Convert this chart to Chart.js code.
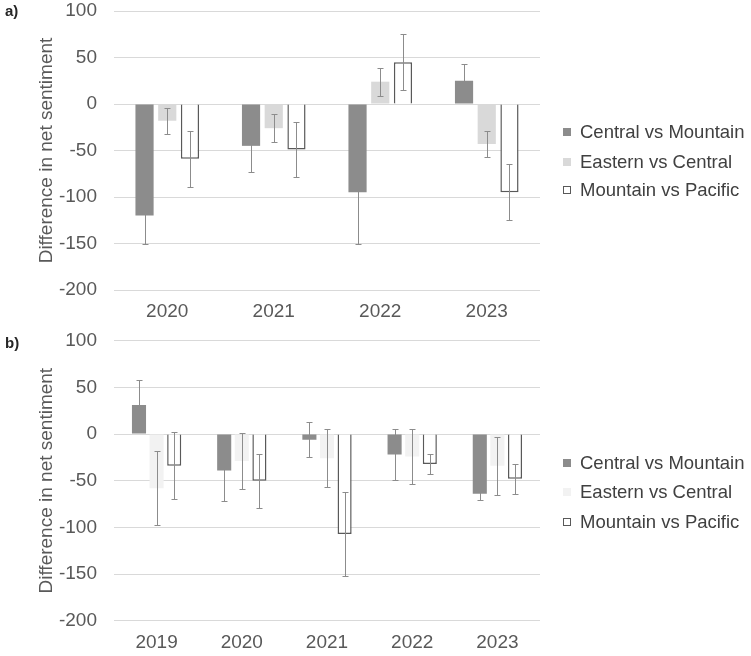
<!DOCTYPE html>
<html>
<head>
<meta charset="utf-8">
<script src="https://cdn.jsdelivr.net/npm/chart.js@4.4.1/dist/chart.umd.min.js"></script>
<style>
  body { margin: 0; background: #fff; }
  #wrap { position: relative; width: 751px; height: 656px; font-family: "Liberation Sans", Arial, sans-serif; }
  .panel { position: absolute; left: 0; width: 751px; height: 328px; }
  .tag { position: absolute; left: 5px; font-weight: bold; font-size: 15px; color: #262626; line-height: 18px; }
  .item { position: absolute; left: 563px; height: 20px; display: flex; align-items: center; font-size: 18.5px; color: #404040; white-space: nowrap; }
  .box { width: 8px; height: 8px; box-sizing: border-box; margin-right: 9px; }
</style>
</head>
<body>
<div id="wrap">
  <div class="panel" id="panelA" style="top:0">
    <canvas id="chartA" width="751" height="328"></canvas>
    <div class="tag" style="top:2px">a)</div>
  </div>
  <div class="panel" id="panelB" style="top:328px">
    <canvas id="chartB" width="751" height="328"></canvas>
    <div class="tag" style="top:6px">b)</div>
  </div>
</div>
<script>
// series names
const seriesNames = ['Central vs Mountain', 'Eastern vs Central', 'Mountain vs Pacific'];

// y axis ticks (both panels)
const yTicks = [-200, -150, -100, -50, 0, 50, 100];

// panel a
const yearsA = ['2020', '2021', '2022', '2023'];
const centralMountainA = [-120, -45, -95, 25];
const easternCentralA = [-18, -26, 24, -43];
const mountainPacificA = [-59, -49, 45, -95];
const errCentralMountainA = [31, 28, 55, 18];
const errEasternCentralA = [14, 15, 15, 14];
const errMountainPacificA = [30, 30, 30, 30];

// panel b
const yearsB = ['2019', '2020', '2021', '2022', '2023'];
const centralMountainB = [31, -39, -6, -22, -64];
const easternCentralB = [-58, -29, -26, -24, -34];
const mountainPacificB = [-34, -50, -107, -32, -48];
const errCentralMountainB = [27, 33, 19, 27, 7];
const errEasternCentralB = [40, 30, 31, 29, 31];
const errMountainPacificB = [36, 29, 45, 11, 16];

const textColor = '#595959';
const gridColor = '#d9d9d9';
const errColor = '#8c8c8c';

// error bars drawn on top of the bars
const errorBars = {
  id: 'errorBars',
  afterDatasetsDraw(chart) {
    const ctx = chart.ctx;
    const y = chart.scales.y;
    ctx.save();
    ctx.strokeStyle = errColor;
    ctx.lineWidth = 1;
    chart.data.datasets.forEach((ds, i) => {
      const meta = chart.getDatasetMeta(i);
      meta.data.forEach((bar, j) => {
        const v = ds.data[j];
        const e = ds.errors[j];
        const x = Math.round(bar.x) + 0.5;
        const top = Math.round(y.getPixelForValue(v + e)) + 0.5;
        const bot = Math.round(y.getPixelForValue(v - e)) + 0.5;
        ctx.beginPath();
        ctx.moveTo(x, top); ctx.lineTo(x, bot);
        ctx.moveTo(x - 3, top); ctx.lineTo(x + 3, top);
        ctx.moveTo(x - 3, bot); ctx.lineTo(x + 3, bot);
        ctx.stroke();
      });
    });
    ctx.restore();
  }
};

function makeChart(id, labels, values, errors, fills, padTop, xHeight, xPad, catPct) {
  const datasets = seriesNames.map((name, i) => ({
    label: name,
    data: values[i],
    errors: errors[i],
    backgroundColor: fills[i],
    borderColor: i === 2 ? '#595959' : fills[i],
    borderWidth: i === 2 ? 1.5 : 0,
    categoryPercentage: catPct,
    barPercentage: 0.8,
  }));
  return new Chart(document.getElementById(id), {
    type: 'bar',
    data: { labels: labels, datasets: datasets },
    options: {
      responsive: false,
      animation: false,
      layout: { padding: { left: 35, top: padTop, right: 211, bottom: 0 } },
      plugins: {
        legend: { display: false },
        tooltip: { enabled: false },
      },
      scales: {
        x: {
          grid: { display: false, drawTicks: false },
          border: { display: false },
          ticks: { color: textColor, padding: xPad, font: { size: 19, family: '"Liberation Sans", Arial' } },
          afterFit: (s) => { s.height = xHeight; },
        },
        y: {
          min: yTicks[0],
          max: yTicks[yTicks.length - 1],
          afterBuildTicks: (s) => { s.ticks = yTicks.map(v => ({ value: v })); },
          grid: { color: gridColor, lineWidth: 1, drawTicks: false },
          border: { display: false },
          ticks: { color: textColor, padding: 17, font: { size: 19, family: '"Liberation Sans", Arial' } },
          title: {
            display: true,
            text: 'Difference in net sentiment',
            color: textColor,
            padding: { top: 0, bottom: 0 },
            font: { size: 19, family: '"Liberation Sans", Arial' },
          },
          afterFit: (s) => { s.width = 79; s.paddingTop = 0; s.paddingBottom = 0; },
        },
      },
    },
    plugins: [errorBars],
  });
}

function makeLegend(panelId, fills, tops) {
  const panel = document.getElementById(panelId);
  seriesNames.forEach((name, i) => {
    const item = document.createElement('div');
    item.className = 'item';
    item.style.top = tops[i] + 'px';
    const box = document.createElement('span');
    box.className = 'box';
    box.style.background = fills[i];
    if (i === 2) box.style.border = '1px solid #595959';
    item.appendChild(box);
    item.appendChild(document.createTextNode(name));
    panel.appendChild(item);
  });
}

const fillsA = ['#8c8c8c', '#d9d9d9', '#ffffff'];
const fillsB = ['#8c8c8c', '#f2f2f2', '#ffffff'];

makeChart('chartA', yearsA,
  [centralMountainA, easternCentralA, mountainPacificA],
  [errCentralMountainA, errEasternCentralA, errMountainPacificA],
  fillsA, 11, 38, 10, 0.64);
makeChart('chartB', yearsB,
  [centralMountainB, easternCentralB, mountainPacificB],
  [errCentralMountainB, errEasternCentralB, errMountainPacificB],
  fillsB, 12.7, 35.3, 11, 0.62);

makeLegend('panelA', fillsA, [121.7, 151.7, 180]);
makeLegend('panelB', fillsB, [125.3, 153.7, 183.7]);
</script>
</body>
</html>
